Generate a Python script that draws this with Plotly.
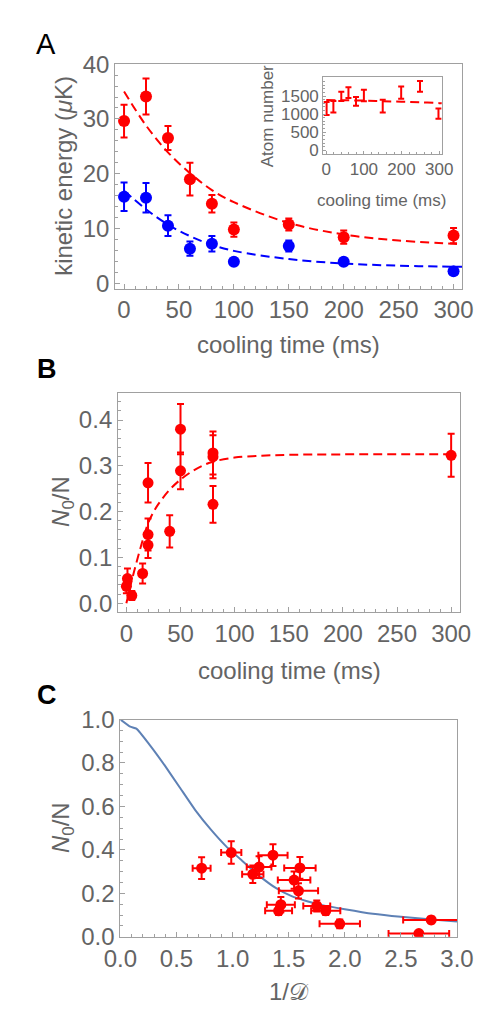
import plotly.graph_objects as go

W, H = 489, 1009

# ---------------- Panel A data ----------------
time_a = [0, 20, 40, 60, 80, 100, 150, 200, 300]
ke_red = [29.6, 34.1, 26.5, 19.0, 14.5, 9.8, 10.7, 8.4, 8.7]
ke_red_err = [3.0, 3.3, 2.2, 3.0, 1.6, 1.3, 1.1, 1.2, 1.4]
ke_blue = [15.8, 15.6, 10.5, 6.3, 7.2, 3.9, 6.8, 3.9, 2.2]
ke_blue_err = [2.6, 2.7, 1.9, 1.3, 1.4, 0.5, 1.0, 0.5, 0.5]

fit_time_a = [0, 20, 40, 60, 80, 100, 150, 200, 250, 300, 308]
fit_red_a = [35.0, 28.8, 23.9, 20.1, 17.0, 14.8, 11.0, 8.9, 7.8, 7.2, 7.1]
fit_blue_a = [16.9, 13.5, 10.7, 8.6, 7.0, 5.9, 4.4, 3.6, 3.2, 3.0, 3.0]

# ---------------- Inset data ----------------
time_in = [1, 19, 40, 59, 79, 100, 150, 199, 249, 298]
atoms = [1160, 1206, 1495, 1595, 1353, 1517, 1223, 1598, 1771, 1017]
atoms_err = [180, 161, 128, 148, 120, 161, 178, 170, 147, 143]
fit_time_in = [0, 50, 100, 150, 200, 250, 300, 307]
fit_atoms = [1390, 1385, 1375, 1360, 1345, 1330, 1305, 1300]
inset_yticks = [0, 500, 1000, 1500]

# ---------------- Panel B data ----------------
time_b = [0, 1, 5, 15, 20, 20, 20, 40, 50, 50, 80, 80, 80, 300]
frac_b = [0.037, 0.054, 0.017, 0.065, 0.150, 0.127, 0.263, 0.157, 0.380, 0.289, 0.328, 0.320, 0.216, 0.323]
frac_b_err = [0.015, 0.022, 0.010, 0.022, 0.035, 0.028, 0.043, 0.035, 0.055, 0.040, 0.047, 0.047, 0.040, 0.047]
fit_time_b = [0, 5, 10, 15, 20, 25, 30, 40, 50, 60, 70, 80, 100, 125, 150, 200, 300]
fit_frac_b = [0.0, 0.05, 0.095, 0.137, 0.174, 0.199, 0.218, 0.248, 0.270, 0.287, 0.300, 0.309, 0.318, 0.322, 0.324, 0.325, 0.325]

# ---------------- Panel C data ----------------
invD = [0.724, 0.988, 1.18, 1.236, 1.36, 1.60, 1.548, 1.587, 1.43, 1.41, 1.75, 1.83, 1.955, 2.66, 2.77]
invD_err = [0.08, 0.09, 0.095, 0.11, 0.13, 0.14, 0.145, 0.175, 0.125, 0.12, 0.12, 0.13, 0.18, 0.27, 0.25]
frac_c = [0.316, 0.388, 0.288, 0.321, 0.376, 0.317, 0.261, 0.212, 0.148, 0.120, 0.142, 0.120, 0.060, 0.015, 0.078]
frac_c_err = [0.05, 0.052, 0.04, 0.05, 0.05, 0.05, 0.04, 0.035, 0.035, 0.02, 0.025, 0.02, 0.02, 0.01, 0.015]
theory_x = [0, 0.088, 0.143, 0.254, 0.392, 0.531, 0.669, 0.807, 0.945, 1.083, 1.249, 1.388, 1.526, 1.664, 1.80, 2.0, 2.25, 2.5, 2.75, 3.0]
theory_y = [1.0, 0.967, 0.958, 0.888, 0.791, 0.686, 0.582, 0.493, 0.415, 0.351, 0.276, 0.224, 0.187, 0.164, 0.146, 0.127, 0.106, 0.092, 0.081, 0.071]

RED = "#ff0000"
BLUE = "#0000ff"
CURVE = "#5e81b5"
GRAY_TXT = "#646464"
FRAME = "#a0a0a0"
FONT = "Liberation Sans, Arial, sans-serif"
DASH = "9px,5px"
MAIN = 24
SMALL = 17


def px(x):
    return x / W


def py(y):
    return 1 - y / H


fig = go.Figure()

# Panel A
fig.add_trace(go.Scatter(x=fit_time_a, y=fit_red_a, mode="lines", line=dict(color=RED, width=2, dash=DASH, shape="spline"),
                         xaxis="x", yaxis="y", showlegend=False, hoverinfo="skip"))
fig.add_trace(go.Scatter(x=fit_time_a, y=fit_blue_a, mode="lines", line=dict(color=BLUE, width=2, dash=DASH, shape="spline"),
                         xaxis="x", yaxis="y", showlegend=False, hoverinfo="skip"))
fig.add_trace(go.Scatter(x=time_a, y=ke_red, mode="markers", marker=dict(color=RED, size=12),
                         error_y=dict(type="data", array=ke_red_err, color=RED, thickness=2, width=3.5),
                         xaxis="x", yaxis="y", showlegend=False))
fig.add_trace(go.Scatter(x=time_a, y=ke_blue, mode="markers", marker=dict(color=BLUE, size=12),
                         error_y=dict(type="data", array=ke_blue_err, color=BLUE, thickness=2, width=3.5),
                         xaxis="x", yaxis="y", showlegend=False))

# Inset
fig.add_trace(go.Scatter(x=fit_time_in, y=fit_atoms, mode="lines", line=dict(color=RED, width=2, dash=DASH, shape="spline"),
                         xaxis="x2", yaxis="y2", showlegend=False, hoverinfo="skip"))
fig.add_trace(go.Scatter(x=time_in, y=atoms, mode="markers", marker=dict(color=RED, size=1, opacity=0),
                         error_y=dict(type="data", array=atoms_err, color=RED, thickness=2, width=3),
                         xaxis="x2", yaxis="y2", showlegend=False))

# Panel B
fig.add_trace(go.Scatter(x=fit_time_b, y=fit_frac_b, mode="lines", line=dict(color=RED, width=2, dash=DASH, shape="spline"),
                         xaxis="x3", yaxis="y3", showlegend=False, hoverinfo="skip"))
fig.add_trace(go.Scatter(x=time_b, y=frac_b, mode="markers", marker=dict(color=RED, size=11),
                         error_y=dict(type="data", array=frac_b_err, color=RED, thickness=2, width=3.5),
                         xaxis="x3", yaxis="y3", showlegend=False))

# Panel C
fig.add_trace(go.Scatter(x=theory_x, y=theory_y, mode="lines", line=dict(color=CURVE, width=2, shape="spline", smoothing=0.4),
                         xaxis="x4", yaxis="y4", showlegend=False, hoverinfo="skip"))
fig.add_trace(go.Scatter(x=invD, y=frac_c, mode="markers", marker=dict(color=RED, size=11),
                         error_y=dict(type="data", array=frac_c_err, color=RED, thickness=2, width=3.5),
                         error_x=dict(type="data", array=invD_err, color=RED, thickness=2, width=3.5),
                         xaxis="x4", yaxis="y4", showlegend=False))


def axis(domain, rng, dtick, minor_dtick, anchor, size=MAIN, fmt=None, ticklen=5, minorlen=3, tick0=0):
    d = dict(domain=domain, range=rng, dtick=dtick, tick0=tick0, anchor=anchor,
             showline=True, linecolor=FRAME, linewidth=1, mirror=True,
             ticks="inside", ticklen=ticklen, tickcolor=FRAME, tickwidth=1,
             showgrid=False, zeroline=False,
             tickfont=dict(family=FONT, size=size, color=GRAY_TXT),
             minor=dict(ticks="inside", ticklen=minorlen, tickcolor=FRAME, dtick=minor_dtick, tick0=tick0, showgrid=False))
    if fmt:
        d["tickformat"] = fmt
    return d


yaxis2 = axis([py(135.5), py(56.5)], [-100, 2030], 500, 100, "x2", size=SMALL, ticklen=3, minorlen=2)
yaxis2["tickmode"] = "array"
yaxis2["tickvals"] = inset_yticks
yaxis2.pop("dtick")
yaxis2["minor"] = dict(ticks="inside", ticklen=2, tickcolor=FRAME, tickmode="array",
                       tickvals=[v for v in range(100, 2000, 100) if v % 500], showgrid=False)

layout = dict(
    width=W, height=H, margin=dict(l=0, r=0, t=0, b=0),
    paper_bgcolor="white", plot_bgcolor="white",
    font=dict(family=FONT, color=GRAY_TXT),
    xaxis=axis([px(97), px(470)], [-8, 308], 50, 10, "y"),
    yaxis=axis([py(274), py(43.3)], [-1.0, 40], 10, 2, "x"),
    xaxis2=axis([px(320.5), px(448)], [-8, 307], 100, 20, "y2", size=SMALL, ticklen=3, minorlen=2),
    yaxis2=yaxis2,
    xaxis3=axis([px(100), px(467.3)], [-7.7, 308], 50, 10, "y3"),
    yaxis3=axis([py(606.7), py(380.7)], [-0.02, 0.46], 0.1, 0.02, "x3", fmt=".1f"),
    xaxis4=axis([px(102.5), px(464.3)], [0, 3], 0.5, 0.1, "y4", fmt=".1f"),
    yaxis4=axis([py(940), py(716.7)], [0, 1], 0.2, 0.05, "x4", fmt=".1f"),
)

annotations = []


def ann(text, x, y, size, color=GRAY_TXT, angle=0, bold=False, xanchor="center"):
    annotations.append(dict(text=("<b>%s</b>" % text) if bold else text, x=px(x), y=py(y), xref="paper", yref="paper",
                            showarrow=False, textangle=angle, xanchor=xanchor, yanchor="middle",
                            font=dict(family=FONT, size=size, color=color)))


# panel labels
ann("A", 23, 23, 29, color="black")
ann("B", 24, 357, 27, color="black", bold=True)
ann("C", 24, 692, 27, color="black", bold=True)

# axis titles
ann("kinetic energy (<i>μ</i>K)", 42, 158, MAIN, angle=-90)
ann("cooling time (ms)", 283, 331, MAIN)
ann("Atom number", 261, 97, SMALL, angle=-90)
ann("cooling time (ms)", 383, 183, SMALL)
ann("<i>N</i><sub>0</sub>/N", 41, 493, MAIN, angle=-90)
ann("cooling time (ms)", 284, 666, MAIN)
ann("<i>N</i><sub>0</sub>/N", 41, 828, MAIN, angle=-90)
ann("1/𝒟", 284, 996, MAIN)

layout["annotations"] = annotations
fig.update_layout(**layout)
fig.write_html("out.html")
